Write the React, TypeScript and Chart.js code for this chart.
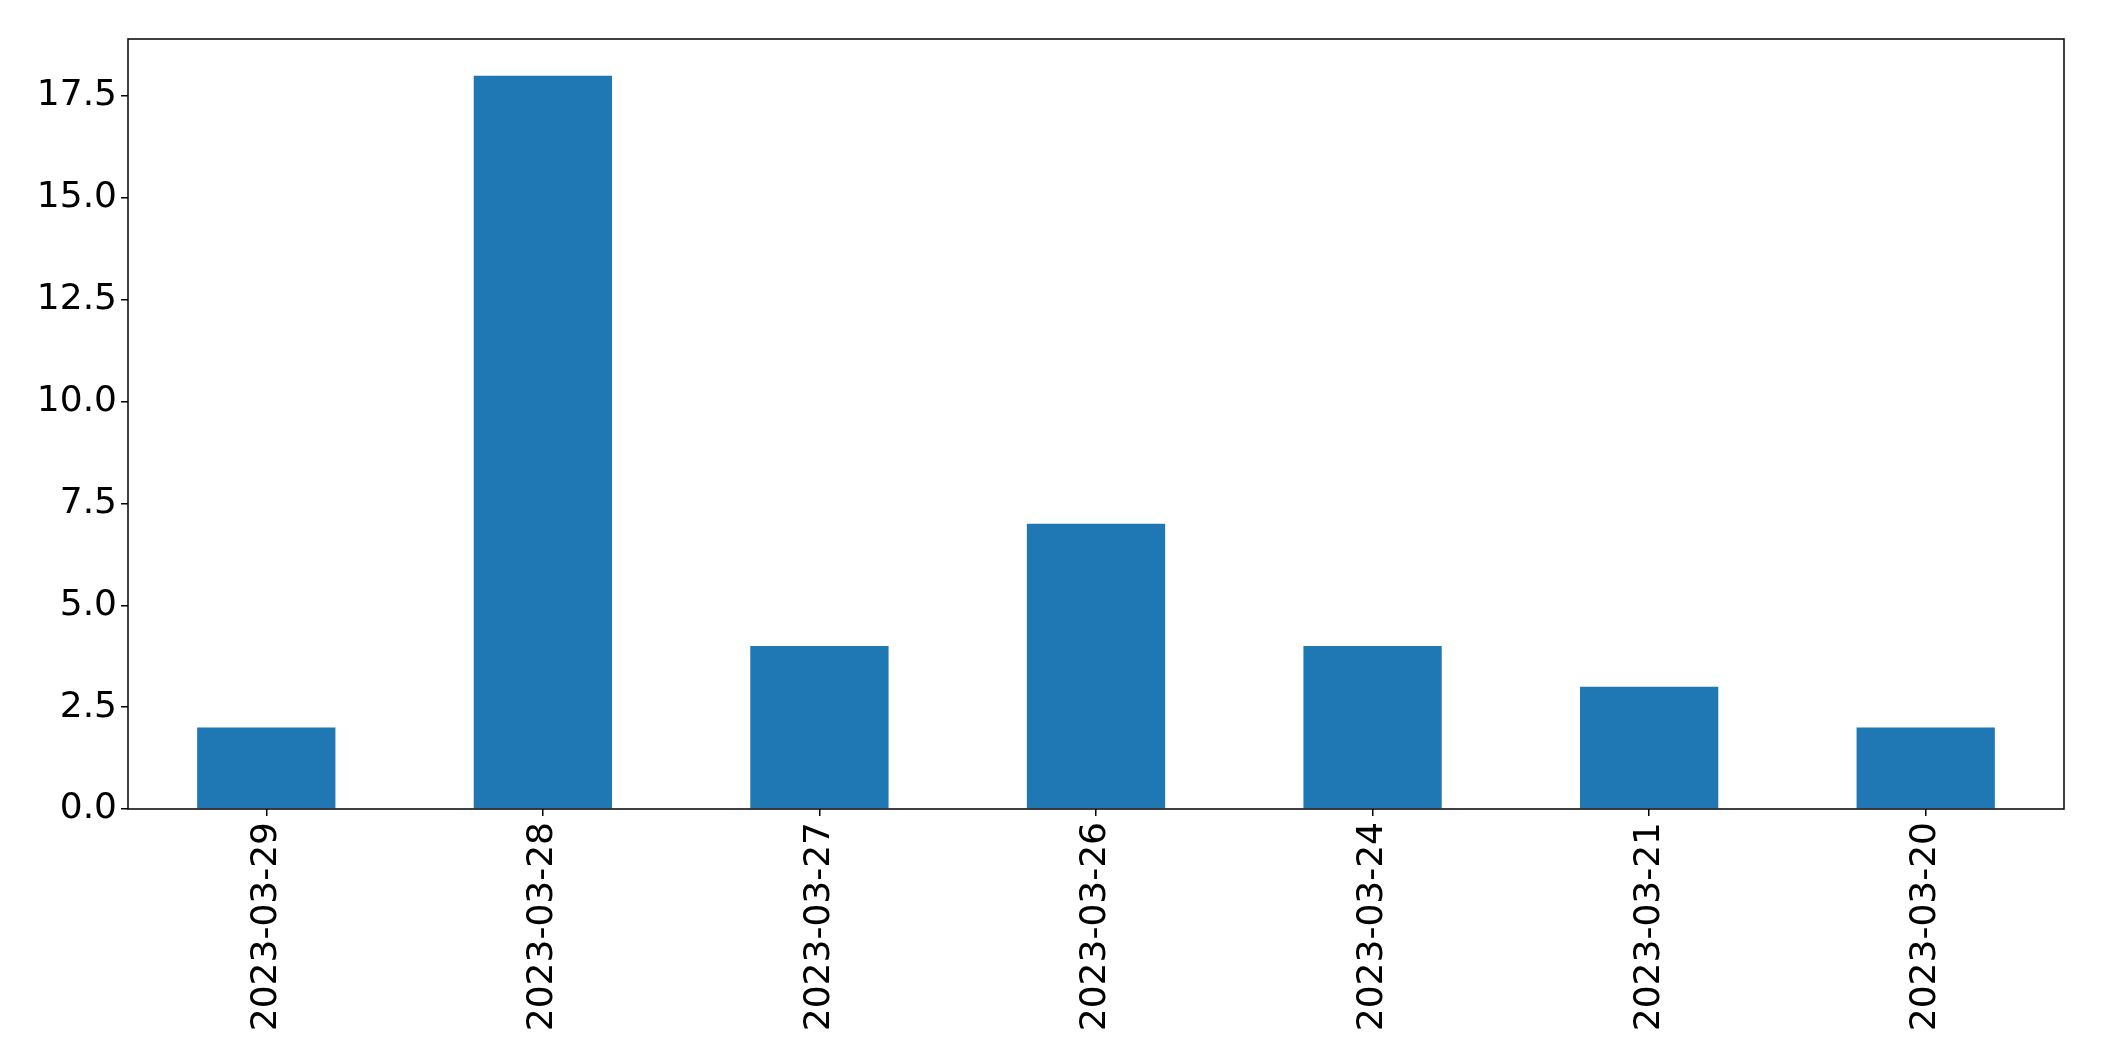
import React, { useEffect, useRef } from "react";
import { Chart, registerables } from "chart.js";

Chart.register(...registerables);

const categories = [
  "2023-03-29",
  "2023-03-28",
  "2023-03-27",
  "2023-03-26",
  "2023-03-24",
  "2023-03-21",
  "2023-03-20",
];
const counts = [2, 18, 4, 7, 4, 3, 2];
const yMax = 18.9;
const yStep = 2.5;

const W = 2104;
const H = 1061;

const framePlugin = {
  id: "frame",
  afterDraw(chart: any) {
    const { ctx, chartArea } = chart;
    ctx.save();
    ctx.strokeStyle = "#000";
    ctx.lineWidth = 1.5;
    ctx.strokeRect(
      chartArea.left,
      chartArea.top,
      chartArea.right - chartArea.left,
      chartArea.bottom - chartArea.top
    );
    ctx.restore();
  },
};

export default function App() {
  const ref = useRef<HTMLCanvasElement>(null);
  useEffect(() => {
    document.body.style.margin = "0";
    const canvas = ref.current!;
    const chart = new Chart(canvas, {
      type: "bar",
      data: {
        labels: categories,
        datasets: [
          {
            data: counts,
            backgroundColor: "#1f77b4",
            borderWidth: 0,
            categoryPercentage: 1,
            barPercentage: 0.5,
          },
        ],
      },
      options: {
        animation: false,
        responsive: false,
        devicePixelRatio: 1,
        layout: { padding: { left: 0, top: 39, right: 40, bottom: 0 } },
        plugins: { legend: { display: false }, tooltip: { enabled: false } },
        scales: {
          x: {
            offset: true,
            grid: {
              display: true,
              offset: false,
              drawOnChartArea: false,
              drawTicks: true,
              tickLength: 7,
              color: "#000",
              lineWidth: 1.5,
            },
            border: { display: false },
            ticks: {
              color: "#000",
              font: { family: "DejaVu Sans", size: 36 },
              minRotation: 90,
              maxRotation: 90,
              autoSkip: false,
              padding: 6,
            },
            afterFit(scale: any) {
              scale.height = H - 809;
            },
          },
          y: {
            min: 0,
            max: yMax,
            grid: {
              display: true,
              drawOnChartArea: false,
              drawTicks: true,
              tickLength: 7,
              color: "#000",
              lineWidth: 1.5,
            },
            border: { display: false },
            ticks: {
              stepSize: yStep,
              color: "#000",
              font: { family: "DejaVu Sans", size: 36 },
              padding: 4,
              callback: (v: any) => Number(v).toFixed(1),
            },
            afterBuildTicks(scale: any) {
              scale.ticks = scale.ticks.filter(
                (t: any) => Math.abs(t.value / yStep - Math.round(t.value / yStep)) < 1e-6
              );
            },
            afterFit(scale: any) {
              scale.width = 128;
            },
          },
        },
      },
      plugins: [framePlugin],
    });
    return () => chart.destroy();
  }, []);
  return (
    <div style={{ position: "absolute", left: 0, top: 0, width: W, height: H, background: "#fff" }}>
      <canvas ref={ref} width={W} height={H} style={{ width: W, height: H, display: "block" }} />
    </div>
  );
}
